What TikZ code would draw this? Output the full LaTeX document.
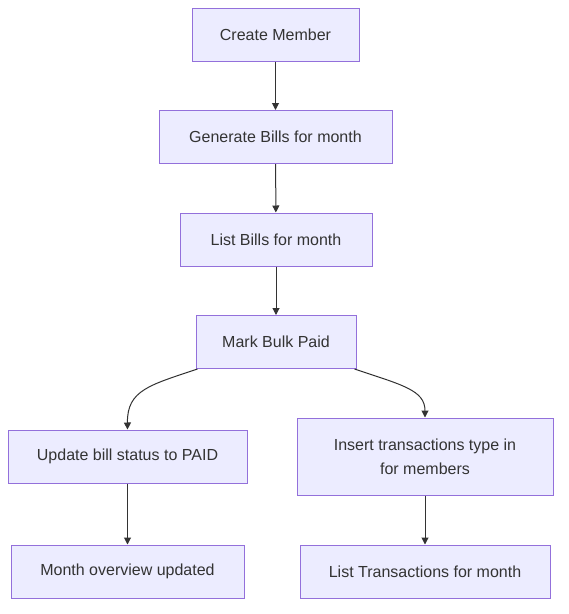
\documentclass[tikz,border=0pt]{standalone}
\usepackage{fontspec}
\setmainfont{Liberation Sans}
\usetikzlibrary{arrows.meta}
\definecolor{nodefill}{HTML}{ECECFF}
\definecolor{nodeline}{HTML}{9370DB}
\definecolor{txt}{HTML}{333333}
\begin{document}
\begin{tikzpicture}[x=1pt,y=-1pt,
  box/.style={draw=nodeline, fill=nodefill, line width=1pt, text=txt, inner sep=0pt,
    font=\fontsize{16}{24}\selectfont, align=center},
  conn/.style={draw=txt, line width=1pt, -{Triangle[length=7pt,width=7pt]}}]
\useasboundingbox (0,0) rectangle (569,614);
\node[box, minimum width=167pt, minimum height=53pt] (a) at (275.5,34.5) {Create Member};
\node[box, minimum width=233pt, minimum height=53pt] (b) at (275.5,137) {Generate Bills for month};
\node[box, minimum width=192pt, minimum height=53pt] (c) at (276,239.5) {List Bills for month};
\node[box, minimum width=160pt, minimum height=53pt] (d) at (276,342) {Mark Bulk Paid};
\node[box, minimum width=239pt, minimum height=53pt] (e) at (127.5,456.5) {Update bill status to PAID};
\node[box, minimum width=256pt, minimum height=77pt] (f) at (425,456.5) {Insert transactions type in\\for members};
\node[box, minimum width=233pt, minimum height=53pt] (g) at (127.5,571.5) {Month overview updated};
\node[box, minimum width=250pt, minimum height=53pt] (h) at (425,571.5) {List Transactions for month};
\draw[conn] (a) -- (b);
\draw[conn] (b) -- (c);
\draw[conn] (c) -- (d);
\draw[conn] ([xshift=2pt]d.south west) .. controls (150,385) and (127,390) .. (e.north);
\draw[conn] ([xshift=-2pt]d.south east) .. controls (402,385) and (425,390) .. (f.north);
\draw[conn] (e) -- (g);
\draw[conn] (f) -- (h);
\end{tikzpicture}
\end{document}
